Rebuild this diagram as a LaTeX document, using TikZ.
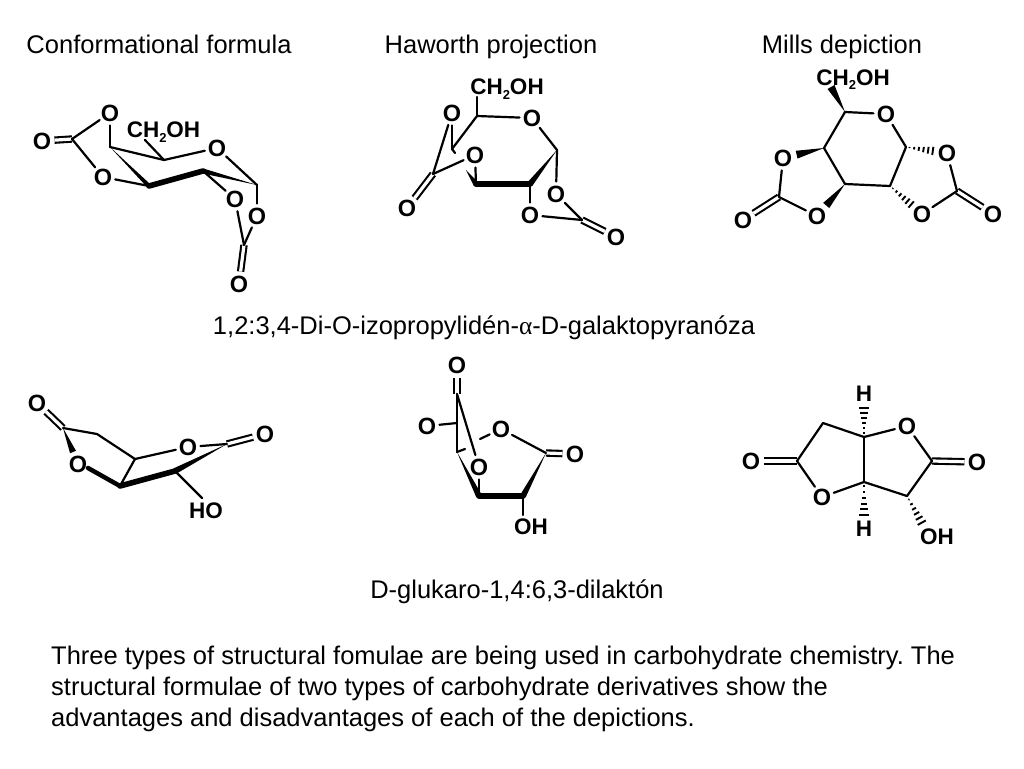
\documentclass[tikz,border=0pt]{standalone}
\usepackage{fontspec}
\setmainfont{Liberation Sans}
\newfontfamily\greekserif{Liberation Serif}
\usetikzlibrary{calc}
\tikzset{
  atom/.style={circle,inner sep=0pt,yshift=-1pt,font=\fontsize{23.5}{24}\selectfont\bfseries},
  lab/.style={inner sep=0pt,yshift=-1pt,font=\fontsize{22.5}{24}\selectfont\bfseries},
  txt/.style={inner sep=0pt,text=black,font=\fontsize{25.5}{31}\selectfont\frenchspacing},
  bond/.style={line width=2.2pt,line cap=round,line join=round},
  dbl/.style={line width=2.1pt,double=white,double distance=3.2pt},
  bold/.style={line width=5.6pt,line cap=round}
}
% wedge: from a (narrow) to b (wide, half width #3), stopped #4 before b
\newcommand{\wdg}[4]{%
  \coordinate (wtmp) at ($(#2.center)!#4pt!(#1.center)$);
  \fill ($(#1.center)$) -- ($(wtmp)!#3pt!90:(#1.center)$) -- ($(wtmp)!#3pt!-90:(#1.center)$) -- cycle;}
% hashed wedge
\newcommand{\hsh}[4]{%
  \coordinate (wtmp) at ($(#2.center)!#4pt!(#1.center)$);
  \foreach \t in {0.12,0.28,0.44,0.6,0.76,0.92}{
    \pgfmathsetmacro\hw{\t*#3}
    \coordinate (ptmp) at ($(#1.center)!\t!(wtmp)$);
    \draw[line width=1.9pt] ($(ptmp)!\hw pt!90:(#1.center)$) -- ($(ptmp)!\hw pt!-90:(#1.center)$);
  }}
\newcommand{\chtwo}{CH\raisebox{-4.5pt}{\fontsize{13}{13}\selectfont 2}OH}
\begin{document}
\begin{tikzpicture}[x=1pt,y=-1pt]
\useasboundingbox (0,0) rectangle (1024,768);
% titles
\node[txt,anchor=base] (t1) at (159,54) {Conformational formula};
\node[txt,anchor=base] (t2) at (491,54) {Haworth projection};
\node[txt,anchor=base] (t3) at (842,54) {Mills depiction};
\node[txt,anchor=base] (t4) at (484,334) {1,2:3,4-Di-O-izopropylidén-{\greekserif α}-D-galaktopyranóza};
\node[txt,anchor=base] (t5) at (517,598) {D-glukaro-1,4:6,3-dilaktón};
\node[txt,anchor=north west,align=left] (t6) at (51,646) {%
  Three types of structural fomulae are being used in carbohydrate chemistry. The\\
  structural formulae of two types of carbohydrate derivatives show the\\
  advantages and disadvantages of each of the depictions.};

% ---------- molecule 1 : conformational
\node[atom] (aO1) at (110,112) {O};
\node[atom] (aO2) at (42,140) {O};
\node[atom] (aO3) at (103,176) {O};
\node[atom] (aO4) at (217,147) {O};
\node[atom] (aO5) at (235,198) {O};
\node[atom] (aO6) at (257,215) {O};
\node[atom] (aO7) at (239,283) {O};
\node[lab] (aCH) at (163.5,131) {\chtwo};
\coordinate (aC0) at (72,139);
\coordinate (aC4) at (110,147);
\coordinate (aC5) at (164,160);
\coordinate (aC1) at (257,185);
\coordinate (aC2) at (203,171);
\coordinate (aC3) at (149,186);
\coordinate (aC9) at (244,245);
\coordinate (aCx) at (145,140);
\draw[dbl] (aO2) -- (aC0);
\draw[dbl] (aC9) -- (aO7);
\foreach \a/\b in {aO1/aC0,aO3/aC0,aO1/aC4,aC4/aC5,aC5/aO4,aO4/aC1,aC1/aO6,aO3/aC3,aC2/aO5,aO5/aC9,aO6/aC9,aCx/aC5}
  \draw[bond] (\a) -- (\b);
\wdg{aC4}{aC3}{2.2}{0}
\wdg{aC1}{aC2}{2.5}{0}
\draw[bold] (aC3) -- (aC2);

% ---------- molecule 2 : Haworth
\node[lab] (bCH) at (507,88) {\chtwo};
\node[atom] (bO1) at (532,117) {O};
\node[atom] (bO2) at (452,112) {O};
\node[atom] (bO3) at (475,154) {O};
\node[atom] (bO4) at (407,207) {O};
\node[atom] (bO5) at (556,193) {O};
\node[atom] (bO6) at (530,214) {O};
\node[atom] (bO7) at (616,236) {O};
\coordinate (bC5) at (477,116);
\coordinate (bC1) at (557,150);
\coordinate (bC2) at (530,184);
\coordinate (bC3) at (476,184);
\coordinate (bC4) at (452,149);
\coordinate (bC0) at (433,174);
\coordinate (bC9) at (582,220);
\coordinate (bCx) at (477,97);
\coordinate (bCh) at (466,170);
\coordinate (bCi) at (455,153);
\draw[dbl] (bC0) -- (bO4);
\draw[dbl] (bC9) -- (bO7);
\foreach \a/\b in {bCx/bC5,bC5/bO1,bO1/bC1,bC1/bO5,bC2/bO6,bO5/bC9,bO6/bC9,bC4/bC5,bO2/bC4,bO2/bC0,bO3/bC0,bO3/bC3,bC4/bCi}
  \draw[bond] (\a) -- (\b);
\wdg{bCh}{bC3}{2.8}{0}
\wdg{bC1}{bC2}{3}{0}
\draw[bold] (bC3) -- (bC2);

% ---------- molecule 3 : Mills
\node[lab] (cCH) at (853,78.5) {\chtwo};
\node[atom] (cO1) at (886,113) {O};
\node[atom] (cO2) at (947,152) {O};
\node[atom] (cO3) at (783,157) {O};
\node[atom] (cO4) at (817,215) {O};
\node[atom] (cO5) at (743,219) {O};
\node[atom] (cO6) at (922,213) {O};
\node[atom] (cO7) at (993,213) {O};
\coordinate (cC5) at (845,112);
\coordinate (cC1) at (906,147);
\coordinate (cC2) at (890,186);
\coordinate (cC3) at (845,184);
\coordinate (cC4) at (824,148);
\coordinate (cC0) at (779,197);
\coordinate (cC9) at (957,191);
\coordinate (cCx) at (831,87);
\draw[dbl] (cC0) -- (cO5);
\draw[dbl] (cC9) -- (cO7);
\foreach \a/\b in {cC5/cO1,cO1/cC1,cC1/cC2,cC2/cC3,cC3/cC4,cC4/cC5,cO3/cC0,cC0/cO4,cO2/cC9,cC9/cO6}
  \draw[bond] (\a) -- (\b);
\wdg{cC5}{cCx}{4}{0}
\wdg{cC4}{cO3}{4}{14}
\wdg{cC3}{cO4}{4}{14}
\hsh{cC1}{cO2}{4.5}{12}
\hsh{cC2}{cO6}{4.5}{12}

% ---------- molecule 4 : conformational
\node[atom] (dO1) at (37,402) {O};
\node[atom] (dO2) at (78,463) {O};
\node[atom] (dO3) at (188,446) {O};
\node[atom] (dO4) at (265,433) {O};
\node[lab] (dHO) at (206,510) {HO};
\coordinate (dC1) at (63,428);
\coordinate (dC2) at (97,434);
\coordinate (dC3) at (135,459);
\coordinate (dC4) at (120,486);
\coordinate (dC5) at (175,471);
\coordinate (dC6) at (227,444);
\coordinate (dCx) at (202,498);
\coordinate (dCb) at (88,468);
\draw[dbl] (dO1) -- (dC1);
\draw[dbl] (dC6) -- (dO4);
\foreach \a/\b in {dC1/dC2,dC2/dC3,dC3/dO3,dC3/dC4,dO3/dC6,dC5/dCx}
  \draw[bond] (\a) -- (\b);
\wdg{dC1}{dO2}{3.2}{13}
\draw[bold,line width=4.5pt] (dCb) -- (dC4);
\draw[bold] (dC4) -- (dC5);
\wdg{dC6}{dC5}{3}{0}

% ---------- molecule 5 : Haworth
\node[atom] (eO1) at (457,364) {O};
\node[atom] (eO2) at (427,425) {O};
\node[atom] (eO3) at (501,428) {O};
\node[atom] (eO4) at (479,466) {O};
\node[atom] (eO5) at (575,453) {O};
\node[lab] (eOH) at (531,526) {OH};
\coordinate (eC1) at (457,394);
\coordinate (eC2) at (457,423);
\coordinate (eC3) at (457,452);
\coordinate (eC4) at (479,496);
\coordinate (eC5) at (523,496);
\coordinate (eC6) at (546,453);
\coordinate (eCa) at (465,449);
\coordinate (eCb) at (480,439);
\coordinate (eCx) at (523,515);
\draw[dbl] (eO1) -- (eC1);
\draw[dbl] (eC6) -- (eO5);
\foreach \a/\b in {eC1/eC2,eC2/eC3,eO2/eC2,eC1/eO4,eC3/eCa,eCb/eO3,eO3/eC6,eO4/eC4,eC5/eCx}
  \draw[bond] (\a) -- (\b);
\wdg{eC3}{eC4}{3}{0}
\wdg{eC6}{eC5}{3}{0}
\draw[bold] (eC4) -- (eC5);

% ---------- molecule 6 : Mills
\node[lab] (fH1) at (864,393) {H};
\node[lab] (fH2) at (864,528) {H};
\node[atom] (fO1) at (907,425) {O};
\node[atom] (fO2) at (977,461) {O};
\node[atom] (fO3) at (822,496) {O};
\node[atom] (fO4) at (751,460) {O};
\node[lab] (fOH) at (937,536) {OH};
\coordinate (fC1) at (864,437);
\coordinate (fC2) at (932,461);
\coordinate (fC3) at (907,496);
\coordinate (fC4) at (864,482);
\coordinate (fC5) at (797,461);
\coordinate (fC6) at (823,423);
\coordinate (fCx) at (923,525);
\draw[dbl] (fC2) -- (fO2);
\draw[dbl] (fC5) -- (fO4);
\foreach \a/\b in {fC1/fO1,fO1/fC2,fC2/fC3,fC3/fC4,fC4/fC1,fC4/fO3,fO3/fC5,fC5/fC6,fC6/fC1}
  \draw[bond] (\a) -- (\b);
\hsh{fC1}{fH1}{5}{11}
\hsh{fC4}{fH2}{5}{11}
\hsh{fC3}{fCx}{5}{0}
\end{tikzpicture}
\end{document}
